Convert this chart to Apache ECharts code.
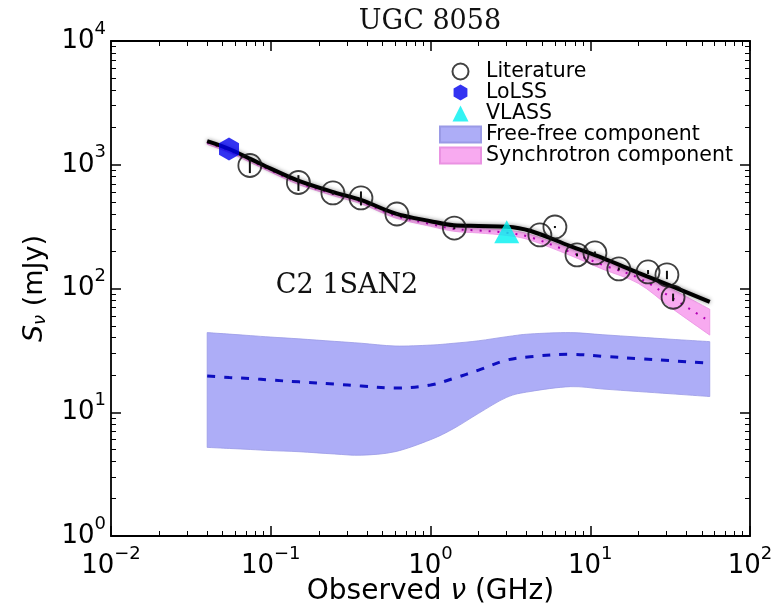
<!DOCTYPE html>
<html>
<head>
<meta charset="utf-8">
<script src="https://cdn.jsdelivr.net/npm/echarts@6/dist/echarts.min.js"></script>
<style>
  html, body { margin: 0; padding: 0; background: #fff; }
  #chart { width: 777px; height: 604px; }
</style>
</head>
<body>
<div id="chart"></div>
<script>
// model curves, sampled along observed frequency (GHz)
const modelFreq = [0.04, 0.055, 0.075, 0.1, 0.15, 0.25, 0.37, 0.6, 1.0, 1.4, 2.0, 3.0, 4.2, 7.5, 12, 20, 32, 56];
const totalFit = [1550, 1340, 1110, 930, 740, 598, 518, 405, 350, 324, 320, 316, 293, 220, 176, 134, 105, 78];
const syncMid = [1510, 1300, 1075, 900, 715, 578, 500, 388, 332, 303, 294, 282, 260, 197, 155, 122, 85, 54];
const syncLo = [1460, 1255, 1040, 870, 690, 558, 482, 372, 318, 290, 281, 268, 246, 185, 143, 110, 70, 42];
const syncHi = [1560, 1345, 1110, 930, 740, 598, 518, 404, 346, 316, 307, 296, 274, 210, 168, 135, 100, 68];
const ffMid = [19.6, 19.1, 18.7, 18.2, 17.6, 16.9, 16.3, 15.7, 16.6, 18.8, 21.9, 26.4, 28.1, 29.4, 28.3, 27.1, 26.1, 24.9];
const ffLo = [5.2, 5.1, 5.0, 4.9, 4.8, 4.6, 4.5, 4.8, 6.0, 7.4, 9.8, 13.2, 14.7, 16.1, 15.4, 14.7, 14.1, 13.4];
const ffHi = [44.0, 42.8, 41.6, 40.5, 39.2, 37.4, 36.1, 34.3, 34.9, 36.1, 37.8, 40.8, 42.9, 44.0, 42.3, 40.5, 38.9, 37.2];

// measurements
const litFreq = [0.074, 0.149, 0.245, 0.367, 0.616, 1.41, 4.84, 6.01, 8.26, 10.7, 15.1, 23.0, 30.2, 33.0];
const litFlux = [986, 719, 592, 539, 400, 308, 271, 314, 187, 194, 144, 136, 129, 85];
const litErr = [130, 105, 18, 70, 8, 6, 6, 6, 5, 5, 4, 5, 10, 6];
const lolssFreq = [0.0548];
const lolssFlux = [1340];
const vlassFreq = [3.0];
const vlassFlux = [288];

// axes
const xMajor = [0.01, 0.1, 1, 10, 100];
const yMajor = [1, 10, 100, 1000, 10000];
const minorOf = (majors) => majors.slice(0, -1).flatMap((d) => [2, 3, 4, 5, 6, 7, 8, 9].map((m) => +(m * d).toPrecision(3)));
const xMinor = minorOf(xMajor);
const yMinor = minorOf(yMajor);

const SANS = "'DejaVu Sans', sans-serif";
const SERIF = "'DejaVu Serif', serif";
const HEX = "path://M0,-1 L0.866,-0.5 L0.866,0.5 L0,1 L-0.866,0.5 L-0.866,-0.5 Z";
const TRI = "path://M0,-1 L1,1 L-1,1 Z";

const pairs = (xs, ys) => xs.map((x, i) => [x, ys[i]]);

// catmull-rom through pixel points, as cubic segments
function curve(pts) {
  let d = "";
  for (let i = 0; i < pts.length - 1; i++) {
    const p0 = pts[i - 1] || pts[i];
    const p1 = pts[i];
    const p2 = pts[i + 1];
    const p3 = pts[i + 2] || p2;
    const c1 = [p1[0] + (p2[0] - p0[0]) / 6, p1[1] + (p2[1] - p0[1]) / 6];
    const c2 = [p2[0] - (p3[0] - p1[0]) / 6, p2[1] - (p3[1] - p1[1]) / 6];
    d += " C" + c1.join(",") + " " + c2.join(",") + " " + p2.join(",");
  }
  return d;
}

function bandSeries(name, lo, hi, fill, edge, z) {
  return {
    name,
    type: "custom",
    z,
    silent: true,
    itemStyle: { color: fill, borderColor: edge, borderWidth: 1 },
    data: [[modelFreq[0], lo[0]]],
    renderItem(params, api) {
      const top = modelFreq.map((f, i) => api.coord([f, hi[i]]));
      const bot = modelFreq.map((f, i) => api.coord([f, lo[i]])).reverse();
      const d = "M" + top[0].join(",") + curve(top) + " L" + bot[0].join(",") + curve(bot) + " Z";
      return {
        type: "path",
        shape: { pathData: d },
        style: { fill, stroke: edge, lineWidth: 0.8 },
      };
    },
  };
}

function expLabel(v) {
  const e = Math.round(Math.log10(v));
  return "{b|10}{e|" + String(e).replace("-", "\u2212") + "}";
}

// superscript: bottom padding lifts the exponent by half its size
const tickRich = {
  b: { fontFamily: SANS, fontSize: 26, color: "#000", verticalAlign: "middle", lineHeight: 40 },
  e: { fontFamily: SANS, fontSize: 18, color: "#000", verticalAlign: "middle", lineHeight: 40, padding: [0, 0, 24, 0] },
};

function logAxis(min, max, position, major, withLabels, extra) {
  const isX = min === 0.01;
  return Object.assign({
    type: "log",
    logBase: 10,
    min,
    max,
    position,
    splitLine: { show: false },
    axisLine: { show: major, onZero: false, lineStyle: { color: "#000", width: 1.8 } },
    axisTick: {
      inside: true,
      length: major ? 10 : 5,
      customValues: major ? (isX ? xMajor : yMajor) : (isX ? xMinor : yMinor),
      lineStyle: { color: "#000", width: major ? 1.5 : 1 },
    },
    axisLabel: withLabels
      ? { customValues: isX ? xMajor : yMajor, formatter: expLabel, rich: tickRich }
      : { show: false },
  }, extra || {});
}

const chart = echarts.init(document.getElementById("chart"));
chart.setOption({
  animation: false,
  backgroundColor: "#fff",
  grid: { left: 111, right: 27, top: 41, bottom: 68, outerBoundsMode: "none", containLabel: false },
  graphic: [
    {
      type: "text", x: 430, y: 22,
      style: { text: "UGC 8058", font: "27px " + SERIF, fill: "#111", align: "center", verticalAlign: "middle" },
    },
    {
      type: "text", x: 347, y: 286,
      style: { text: "C2 1SAN2", font: "27px " + SERIF, fill: "#111", align: "center", verticalAlign: "middle" },
    },
  ],
  legend: {
    orient: "vertical",
    left: 439,
    top: 61,
    padding: 0,
    itemWidth: 41,
    itemHeight: 16,
    itemGap: 0,
    textStyle: { fontFamily: SANS, fontSize: 20.5, color: "#000" },
    data: [
      { name: "Literature", icon: "circle" },
      { name: "LoLSS", icon: HEX },
      { name: "VLASS", icon: TRI },
      { name: "Free-free component", icon: "rect" },
      { name: "Synchrotron component", icon: "rect" },
    ],
  },
  xAxis: [
    logAxis(0.01, 100, "bottom", true, true, {
      name: "{n|Observed }{v|\u03bd}{n| (GHz)}",
      nameLocation: "middle",
      nameGap: 42,
      nameMoveOverlap: false,
      nameTextStyle: {
        rich: {
          n: { fontFamily: SANS, fontSize: 28, color: "#000" },
          v: { fontFamily: SANS, fontSize: 28, fontStyle: "italic", color: "#000" },
        },
      },
      axisLabel: { customValues: xMajor, formatter: expLabel, rich: tickRich, margin: 10 },
    }),
    logAxis(0.01, 100, "bottom", false, false),
    logAxis(0.01, 100, "top", true, false),
    logAxis(0.01, 100, "top", false, false),
  ],
  yAxis: [
    logAxis(1, 10000, "left", true, true, {
      name: "{i|S}{s|\u03bd}{n| (mJy)}",
      nameLocation: "middle",
      nameGap: 60,
      nameMoveOverlap: false,
      nameTextStyle: {
        rich: {
          i: { fontFamily: SANS, fontSize: 27, fontStyle: "italic", color: "#000", lineHeight: 32 },
          s: { fontFamily: SANS, fontSize: 18, fontStyle: "italic", color: "#000", lineHeight: 32, padding: [11, 0, 0, 0] },
          n: { fontFamily: SANS, fontSize: 27, color: "#000", lineHeight: 32 },
        },
      },
      axisLabel: { customValues: yMajor, formatter: expLabel, rich: tickRich, margin: 5 },
    }),
    logAxis(1, 10000, "left", false, false),
    logAxis(1, 10000, "right", true, false),
    logAxis(1, 10000, "right", false, false),
  ],
  series: [
    bandSeries("Free-free component", ffLo, ffHi, "#adadf7", "#9a9ae6", 1),
    bandSeries("Synchrotron component", syncLo, syncHi, "#f8aaf0", "#ea92e2", 2),
    {
      name: "ff-mid",
      type: "line",
      z: 3,
      smooth: 0.35,
      showSymbol: false,
      silent: true,
      lineStyle: { color: "#0d0dbf", width: 3, type: [8, 9] },
      data: pairs(modelFreq, ffMid),
    },
    {
      name: "sync-mid",
      type: "line",
      z: 3,
      smooth: 0.35,
      showSymbol: false,
      silent: true,
      lineStyle: { color: "#b300b3", width: 2, type: [2, 7] },
      data: pairs(modelFreq, syncMid),
    },
    {
      name: "total",
      type: "line",
      z: 4,
      smooth: 0.35,
      showSymbol: false,
      silent: true,
      lineStyle: { color: "#000", width: 4, shadowColor: "rgba(0,0,0,0.45)", shadowBlur: 4 },
      data: pairs(modelFreq, totalFit),
    },
    {
      name: "errors",
      type: "custom",
      z: 5,
      silent: true,
      data: litFreq.map((f, i) => [f, litFlux[i], litErr[i]]),
      renderItem(params, api) {
        const a = api.coord([api.value(0), api.value(1) - api.value(2)]);
        const b = api.coord([api.value(0), api.value(1) + api.value(2)]);
        return {
          type: "line",
          shape: { x1: a[0], y1: a[1], x2: b[0], y2: b[1] },
          style: { stroke: "#111", lineWidth: 2 },
        };
      },
    },
    {
      name: "Literature",
      type: "scatter",
      z: 6,
      symbol: "circle",
      symbolSize: 23,
      itemStyle: { color: "rgba(255,255,255,0)", borderColor: "#111", borderWidth: 1.8 },
      data: pairs(litFreq, litFlux),
    },
    {
      name: "LoLSS",
      type: "scatter",
      z: 6,
      symbol: HEX,
      symbolSize: [20, 23],
      itemStyle: { color: "#0000ee" },
      data: pairs(lolssFreq, lolssFlux),
    },
    {
      name: "VLASS",
      type: "scatter",
      z: 6,
      symbol: TRI,
      symbolSize: [25, 23],
      itemStyle: { color: "#00f0f0" },
      data: pairs(vlassFreq, vlassFlux),
    },
  ],
});
</script>
</body>
</html>
